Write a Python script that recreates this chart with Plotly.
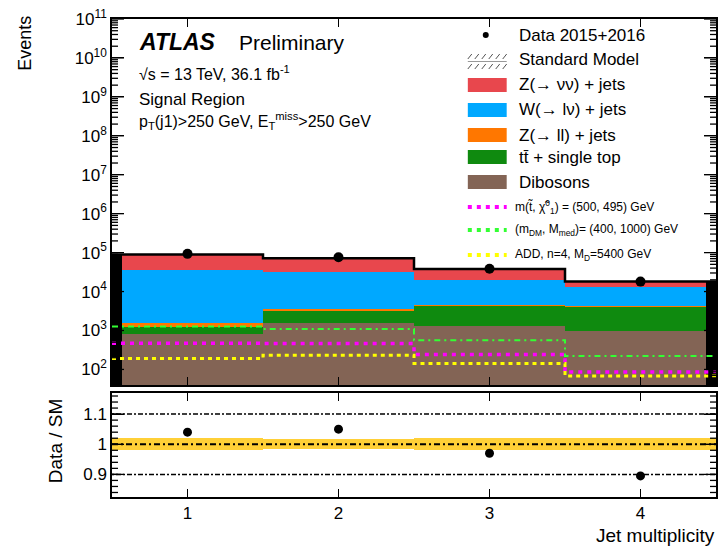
import plotly.graph_objects as go

# ---------------- data ----------------
bin_edges = [0.5, 1.5, 2.5, 3.5, 4.5]
bin_centers = [1, 2, 3, 4]
x_tick_labels = ["1", "2", "3", "4"]

dibosons = [800, 1600, 1340, 960]
ttbar_single_top = [460, 1530, 2830, 3140]
z_ll_jets = [340, 340, 480, 120]
w_lnu_jets = [33400, 27800, 15350, 8680]
z_nunu_jets = [54000, 40700, 17800, 5100]

data_events = [93000, 76000, 38500, 18000]

sig_stop = [470, 460, 243, 86]          # m(stop, chi) = (500, 495) GeV
sig_dm = [1260, 1100, 560, 220]         # (m_DM, M_med) = (400, 1000) GeV
sig_add = [190, 230, 141, 68]           # ADD n=4, M_D=5400 GeV

ratio_data_sm = [1.04, 1.05, 0.97, 0.895]
sm_rel_unc = [0.02, 0.016, 0.02, 0.02]

y_tick_exps = [2, 3, 4, 5, 6, 7, 8, 9, 10, 11]
ratio_ticks = [0.9, 1.0, 1.1]
ratio_tick_labels = ["0.9", "1", "1.1"]

# ---------------- geometry helpers ----------------
W, H = 721, 547
L, R, T, B = 112, 718, 19, 497
PW = R - L
def px(x):
    return (x - L) / (R - L)
def py(y):
    return (B - y) / (B - T)

FONT = "Liberation Sans, Arial, Helvetica, sans-serif"

colors = {
    "znn": "#E8474D",
    "wln": "#00A8FF",
    "zll": "#FF7700",
    "tt": "#0F8A0F",
    "vv": "#836455",
}

layers = [dibosons, ttbar_single_top, z_ll_jets, w_lnu_jets, z_nunu_jets]
cum = []
run = [0.0] * 4
for lay in layers:
    run = [a + b for a, b in zip(run, lay)]
    cum.append(run)
total = cum[-1]

fig = go.Figure()

fig.add_trace(go.Bar(x=bin_centers, y=total, width=[1] * 4, marker=dict(color="black", line=dict(width=0)),
                     xaxis="x", yaxis="y", showlegend=False, hoverinfo="skip"))

inset_w = [0.933, 1, 1, 0.933]
inset_off = [-0.433, -0.5, -0.5, -0.5]
layer_colors = [colors["vv"], colors["tt"], colors["zll"], colors["wln"], colors["znn"]]
for c, col in reversed(list(zip(cum, layer_colors))):
    fig.add_trace(go.Bar(x=bin_centers, y=c, width=inset_w, offset=inset_off,
                         marker=dict(color=col, line=dict(width=0)),
                         xaxis="x", yaxis="y", showlegend=False))

def step(vals):
    return bin_edges, list(vals) + [vals[-1]]

sx, sy = step(total)
fig.add_trace(go.Scatter(x=sx, y=sy, mode="lines", line=dict(color="black", width=2.5, shape="hv"),
                         xaxis="x", yaxis="y", showlegend=False))

for vals, col, dash, wdt in [
    (sig_dm, "#33FF33", "6px,4px,2px,4px", 2),
    (sig_stop, "#FF00FF", "4px,5px", 3.5),
    (sig_add, "#FFFF00", "4px,4px", 3),
]:
    sx, sy = step(vals)
    fig.add_trace(go.Scatter(x=sx, y=sy, mode="lines", line=dict(color=col, width=wdt, dash=dash, shape="hv"),
                             xaxis="x", yaxis="y", showlegend=False))

fig.add_trace(go.Scatter(x=bin_centers, y=data_events, mode="markers",
                         marker=dict(color="black", size=10), xaxis="x", yaxis="y", showlegend=False))

# ---------------- ratio panel ----------------
fig.add_trace(go.Bar(x=bin_centers, y=[2 * u for u in sm_rel_unc], base=[1 - u for u in sm_rel_unc],
                     width=[1] * 4, marker=dict(color="rgba(255,200,20,0.85)", line=dict(width=0)),
                     xaxis="x2", yaxis="y2", showlegend=False))
fig.add_trace(go.Scatter(x=bin_centers, y=ratio_data_sm, mode="markers",
                         marker=dict(color="black", size=9), xaxis="x2", yaxis="y2", showlegend=False))

shapes = []
for yv, dash, wdt in [(1.1, "2px,2px,5px,2px", 1.5), (0.9, "2px,2px,5px,2px", 1.5), (1.0, "6px,3px,2px,3px", 2)]:
    shapes.append(dict(type="line", xref="x2 domain", yref="y2", x0=0, x1=1, y0=yv, y1=yv,
                       line=dict(color="black", width=wdt, dash=dash), layer="above"))

# y-axis tick marks (major + minor, both sides), drawn as axis furniture
main_minor = [k * 10 ** n for n in range(1, 11) for k in range(2, 10) if 40 <= k * 10 ** n <= 1e11]
ratio_minor = [round(0.84 + 0.02 * i, 3) for i in range(17)]
def yticks(xref, yref, vals, length):
    f = length / PW
    for v in vals:
        for a, b in [(0, f), (1 - f, 1)]:
            shapes.append(dict(type="line", xref=xref, yref=yref, x0=a, x1=b, y0=v, y1=v,
                               line=dict(color="black", width=1.3), layer="above"))
yticks("x domain", "y", [10 ** e for e in y_tick_exps], 12)
yticks("x domain", "y", main_minor, 6)
yticks("x2 domain", "y2", ratio_ticks, 12)
yticks("x2 domain", "y2", ratio_minor, 6)

# ---------------- legend (manual) ----------------
ann = []
def text(x, y, s, size, **kw):
    d = dict(x=px(x), y=py(y), xref="paper", yref="paper", text=s, showarrow=False,
             xanchor="left", yanchor="middle", font=dict(family=FONT, size=size, color="black"))
    d.update(kw)
    ann.append(d)

lx0, lx1 = 469, 508
tx = 518
shapes.append(dict(type="circle", xref="paper", yref="paper", x0=px(484), x1=px(490), y0=py(38), y1=py(32),
                   fillcolor="black", line=dict(color="black", width=0)))
text(tx, 36, "Data 2015+2016", 17)
for i in range(6):
    xa = 469 + i * 7
    shapes.append(dict(type="line", xref="paper", yref="paper", x0=px(xa), x1=px(xa + 4), y0=py(59), y1=py(54),
                       line=dict(color="#555555", width=1)))
    shapes.append(dict(type="line", xref="paper", yref="paper", x0=px(xa), x1=px(xa + 4), y0=py(69), y1=py(64),
                       line=dict(color="#555555", width=1)))
shapes.append(dict(type="line", xref="paper", yref="paper", x0=px(lx0), x1=px(lx1), y0=py(61.5), y1=py(61.5),
                   line=dict(color="#999999", width=1)))
text(tx, 60, "Standard Model", 17)

entries = [
    (85, colors["znn"], "Z(→ νν) + jets"),
    (110, colors["wln"], "W(→ lν) + jets"),
    (135, colors["zll"], "Z(→ ll) + jets"),
    (157, colors["tt"], "tt̄ + single top"),
    (182, colors["vv"], "Dibosons"),
]
for yc, col, lab in entries:
    shapes.append(dict(type="rect", xref="paper", yref="paper", x0=px(lx0), x1=px(lx1), y0=py(yc + 7), y1=py(yc - 7),
                       fillcolor=col, line=dict(width=0)))
    text(tx, yc, lab, 17)

sig_entries = [
    (207, "#FF00FF", "m(t̃, χ̃<sup>0</sup><sub>1</sub>) = (500, 495) GeV"),
    (230, "#33FF33", "(m<sub>DM</sub>, M<sub>med</sub>)= (400, 1000) GeV"),
    (255, "#FFFF00", "ADD, n=4, M<sub>D</sub>=5400 GeV"),
]
for yc, col, lab in sig_entries:
    shapes.append(dict(type="line", xref="paper", yref="paper", x0=px(lx0), x1=px(lx1), y0=py(yc), y1=py(yc),
                       line=dict(color=col, width=4, dash="4px,5px")))
    text(514, yc, lab, 12)

text(137, 42, "<b><i>ATLAS</i></b>", 23)
text(237, 42, "Preliminary", 21)
text(137, 73, "√s = 13 TeV, 36.1 fb<sup>-1</sup>", 16)
text(137, 99, "Signal Region", 17)
text(137, 121, "p<sub>T</sub>(j1)>250 GeV, E<sub>T</sub><sup>miss</sup>>250 GeV", 16)

ann.append(dict(x=px(25), y=py(14), xref="paper", yref="paper", text="Events", showarrow=False, textangle=-90,
                xanchor="center", yanchor="top", font=dict(family=FONT, size=18, color="black")))
ann.append(dict(x=px(55), y=py(441), xref="paper", yref="paper", text="Data / SM", showarrow=False, textangle=-90,
                xanchor="center", yanchor="middle", font=dict(family=FONT, size=19, color="black")))
ann.append(dict(x=px(719), y=py(535), xref="paper", yref="paper", text="Jet multiplicity", showarrow=False,
                xanchor="right", yanchor="middle", font=dict(family=FONT, size=19, color="black")))

axis_common = dict(showline=True, linecolor="black", linewidth=1.5, mirror="allticks", ticks="inside",
                   tickcolor="black", tickwidth=1.2, showgrid=False, zeroline=False,
                   tickfont=dict(family=FONT, size=17, color="black"))

main_dom = [py(385), 1]
ratio_dom = [0, py(393)]

fig.update_layout(
    width=W, height=H,
    margin=dict(l=L, r=W - R, t=T, b=H - B),
    paper_bgcolor="white", plot_bgcolor="white",
    barmode="overlay", bargap=0,
    showlegend=False,
    xaxis=dict(domain=[0, 1], anchor="y", range=[0.5, 4.5], tickvals=bin_centers, showticklabels=False,
               ticklen=8, **axis_common),
    yaxis=dict(domain=main_dom, anchor="x", type="log", range=[1.6, 11.0],
               tickvals=[10 ** e for e in y_tick_exps],
               ticktext=[f"10<sup>{e}</sup>" for e in y_tick_exps],
               ticklen=12, **axis_common),
    xaxis2=dict(domain=[0, 1], anchor="y2", range=[0.5, 4.5], tickvals=bin_centers, ticktext=x_tick_labels,
                ticklen=8, **axis_common),
    yaxis2=dict(domain=ratio_dom, anchor="x2", range=[0.825, 1.17], tickvals=ratio_ticks,
                ticktext=ratio_tick_labels, ticklen=12, **axis_common),
    shapes=shapes,
    annotations=ann,
)

fig.write_html("out.html")
